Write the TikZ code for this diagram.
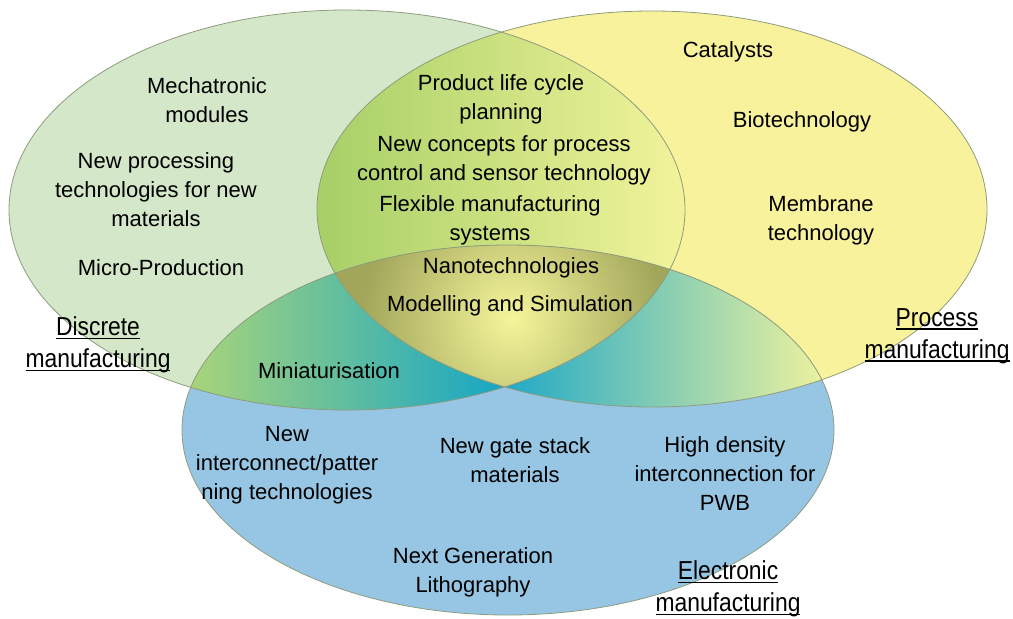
\documentclass[tikz,border=0pt]{standalone}
\usepackage{fontspec}
\setmainfont{Liberation Sans}
\newfontfamily\labelfont[FakeStretch=0.88]{Liberation Sans}
\definecolor{greenset}{HTML}{D4E7C9}
\definecolor{yellowset}{HTML}{F8F29C}
\definecolor{blueset}{HTML}{97C6E4}
\definecolor{gyleft}{HTML}{A6CF66}
\definecolor{gyright}{HTML}{F3F49C}
\definecolor{gbleft}{HTML}{A8D47A}
\definecolor{gbright}{HTML}{16A6C6}
\definecolor{ybleft}{HTML}{1EA8C8}
\definecolor{ybmid}{HTML}{A2D6B4}
\definecolor{ybright}{HTML}{F1F39E}
\definecolor{coreinner}{HTML}{F5F59B}
\definecolor{coreouter}{HTML}{A2A65A}
\definecolor{rimcol}{HTML}{8E9C7E}
% underline drawn just below the baseline, crossing descenders
\newcommand{\ulabel}[1]{\setbox0=\hbox{#1}\rlap{\rule[-3.6pt]{\wd0}{1.6pt}}\box0}
\begin{document}
\begin{tikzpicture}[x=1pt,y=-1pt,
  item/.style={align=center,font=\fontsize{22}{29}\selectfont,inner sep=0pt},
  setlabel/.style={align=center,font=\labelfont\fontsize{26}{32}\selectfont,inner sep=0pt},
  rim/.style={draw=rimcol,line width=0.8pt}]
\useasboundingbox (0,0) rectangle (1013,619);
% centres of the three sets
\coordinate (gc) at (347,210);
\coordinate (yc) at (652,209);
\coordinate (bc) at (508,430);
% base fills
\fill[greenset] (gc) ellipse [x radius=338pt,y radius=200pt];
\fill[yellowset] (yc) ellipse [x radius=335pt,y radius=198pt];
\fill[blueset] (bc) ellipse [x radius=326pt,y radius=185pt];
% discrete & process overlap
\begin{scope}
  \clip (gc) ellipse [x radius=338pt,y radius=200pt];
  \clip (yc) ellipse [x radius=335pt,y radius=198pt];
  \shade[left color=gyleft,right color=gyright] (315,5) rectangle (690,415);
\end{scope}
% discrete & electronic overlap
\begin{scope}
  \clip (gc) ellipse [x radius=338pt,y radius=200pt];
  \clip (bc) ellipse [x radius=326pt,y radius=185pt];
  \shade[left color=gbleft,right color=gbright] (190,240) rectangle (505,415);
\end{scope}
% process & electronic overlap
\begin{scope}
  \clip (yc) ellipse [x radius=335pt,y radius=198pt];
  \clip (bc) ellipse [x radius=326pt,y radius=185pt];
  \shade[left color=ybleft,middle color=ybmid,right color=ybright] (500,240) rectangle (830,415);
\end{scope}
% common core of all three
\begin{scope}
  \clip (gc) ellipse [x radius=338pt,y radius=200pt];
  \clip (yc) ellipse [x radius=335pt,y radius=198pt];
  \clip (bc) ellipse [x radius=326pt,y radius=185pt];
  \fill[coreouter] (300,230) rectangle (720,400);
  \shade[inner color=coreinner,outer color=coreouter] (512,318) circle (150pt);
\end{scope}
% outlines
\draw[rim] (gc) ellipse [x radius=338pt,y radius=200pt];
\draw[rim] (yc) ellipse [x radius=335pt,y radius=198pt];
\draw[rim] (bc) ellipse [x radius=326pt,y radius=185pt];
% discrete manufacturing
\node[item] (mech) at (207,100) {Mechatronic\\modules};
\node[item] (proc) at (156,190) {New processing\\technologies for new\\materials};
\node[item] (micro) at (161,268) {Micro-Production};
% discrete & process
\node[item] (plc) at (501,99) {Product life cycle\\planning};
\node[item] (ncp) at (504,160) {New concepts for process\\control and sensor technology};
\node[item] (fms) at (490,220) {Flexible manufacturing\\systems};
% all three
\node[item] (nano) at (511,268) {Nanotechnologies};
\node[item] (model) at (510,306) {Modelling and Simulation};
% discrete & electronic
\node[item] (mini) at (329,371) {Miniaturisation};
% process manufacturing
\node[item] (cat) at (728,52) {Catalysts};
\node[item] (bio) at (802,122) {Biotechnology};
\node[item] (memb) at (821,220) {Membrane\\technology};
% electronic manufacturing
\node[item] (inter) at (287,465) {New\\interconnect/patter\\ning technologies};
\node[item] (gate) at (515,460) {New gate stack\\materials};
\node[item] (hdi) at (725,474) {High density\\interconnection for\\PWB};
\node[item] (ngl) at (473,572) {Next Generation\\Lithography};
% set names
\node[setlabel] (discrete) at (98,345) {\ulabel{Discrete}\\\ulabel{manufacturing}};
\node[setlabel] (process) at (937,336) {\ulabel{Process}\\\ulabel{manufacturing}};
\node[setlabel] (electronic) at (728,589) {\ulabel{Electronic}\\\ulabel{manufacturing}};
\end{tikzpicture}
\end{document}
